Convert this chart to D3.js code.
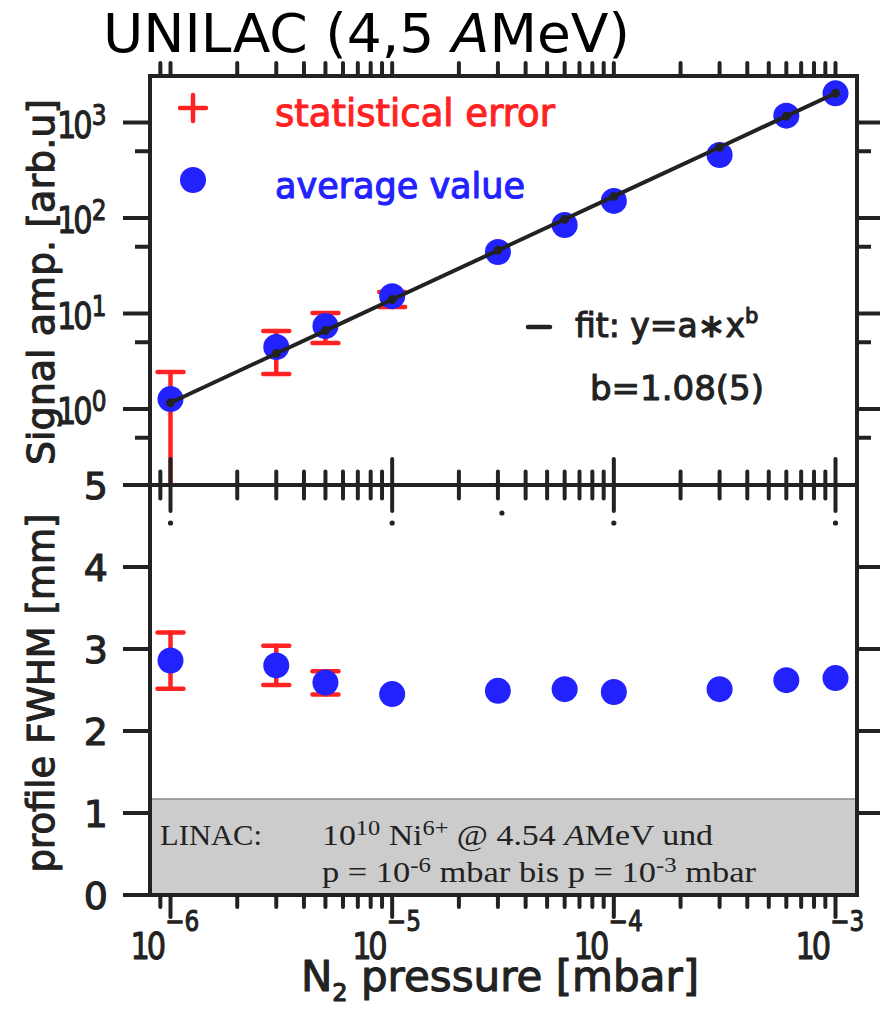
<!DOCTYPE html>
<html><head><meta charset="utf-8">
<script src="https://cdn.jsdelivr.net/npm/d3@7"></script>
<style>body{margin:0;background:#fff}svg{display:block}</style>
</head><body>
<svg id="chart" width="881" height="1009"></svg>
<script>
// Measured signal amplitude and beam profile width versus N2 pressure
const pressure   = [1e-6, 3e-6, 5e-6, 1e-5, 3e-5, 6e-5, 1e-4, 3e-4, 6e-4, 1e-3];
const signalAmp  = [1.27, 4.46, 7.4, 15.2, 44, 84.5, 151, 457, 1180, 2020];
const fwhm       = [2.86, 2.80, 2.59, 2.45, 2.49, 2.51, 2.475, 2.51, 2.62, 2.645];

// statistical errors (upper / lower bound)
const sigErrPressure = [1e-6, 3e-6, 5e-6, 1e-5];
const sigErrHigh     = [2.44, 6.56, 10.1, 16.8];
const sigErrLow      = [0.12, 2.32, 4.91, 11.7];
const fwhmErrPressure = [1e-6, 3e-6, 5e-6];
const fwhmErrHigh     = [3.20, 3.04, 2.73];
const fwhmErrLow      = [2.515, 2.56, 2.445];

// power-law fit y = a * x^b
const fitA = Math.pow(10, 6.546);
const fitB = 1.08;

// axis ticks
const xMajor = [1e-6, 1e-5, 1e-4, 1e-3];
const xMajorExp = ["\u22126", "\u22125", "\u22124", "\u22123"];
const yTopMajor = [1, 10, 100, 1000];
const yTopMajorExp = ["0", "1", "2", "3"];
const yTopMinor = [0.5, 5, 50, 500];
const yBotTicks = [0, 1, 2, 3, 4, 5];
const dotMarks = [1e-6, 1e-5, 3e-5, 1e-4, 1e-3];

const svg = d3.select("#chart");
const INK = "#222", BLUE = "#2222ff", RED = "#ff2222";
const L = 150, R = 857, T = 76, M = 485, B = 895;

const x = d3.scaleLog().domain([1e-6, 1e-3]).range([170.5, 835.5]);
const yTop = d3.scaleLog().domain([1, 1000]).range([409, 122.5]);
const yBot = d3.scaleLinear().domain([0, 5]).range([B, M]);

const sans = "'DejaVu Sans', Verdana, sans-serif";
const serif = "'Liberation Serif', 'Times New Roman', serif";

// title
svg.append("text").attr("x", 103).attr("y", 52)
  .attr("font-family", sans).attr("font-size", 53).attr("fill", "#000")
  .attr("textLength", 527).attr("lengthAdjust", "spacingAndGlyphs")
  .call(t => {
    t.append("tspan").text("UNILAC (4,5 ");
    t.append("tspan").attr("font-style", "italic").text("A");
    t.append("tspan").text("MeV)");
  });

// clip regions for each panel
const defs = svg.append("defs");
defs.append("clipPath").attr("id", "clipTop").append("rect")
  .attr("x", L).attr("y", T).attr("width", R - L).attr("height", M - T);
defs.append("clipPath").attr("id", "clipBot").append("rect")
  .attr("x", L).attr("y", M).attr("width", R - L).attr("height", B - M);

// info box in the lower panel
svg.append("rect").attr("x", L).attr("y", 799).attr("width", R - L).attr("height", B - 799)
  .attr("fill", "#cccccc").attr("stroke", "#8a8a8a").attr("stroke-width", 1.5);

function richText(g, xPos, yPos, parts, size, len) {
  const t = g.append("text").attr("x", xPos).attr("y", yPos)
    .attr("font-family", serif).attr("font-size", size).attr("fill", "#222")
    .attr("textLength", len).attr("lengthAdjust", "spacingAndGlyphs");
  parts.forEach(p => {
    const s = t.append("tspan").text(p.t);
    if (p.sup) s.attr("font-size", size * 0.72).attr("baseline-shift", "45%");
    if (p.it) s.attr("font-style", "italic");
  });
  return t;
}
richText(svg, 160, 845, [{t: "LINAC:"}], 30, 102);
richText(svg, 322, 845, [{t: "10"}, {t: "10", sup: true}, {t: " Ni"}, {t: "6+", sup: true},
  {t: " @ 4.54 "}, {t: "A", it: true}, {t: "MeV und"}], 30, 391);
richText(svg, 322, 882, [{t: "p = 10"}, {t: "-6", sup: true}, {t: " mbar bis p = 10"},
  {t: "-3", sup: true}, {t: " mbar"}], 30, 434);

// error bars
const capW = 13;
function errorBars(g, xs, hi, lo, yS, clip) {
  const gg = g.append("g").attr("clip-path", `url(#${clip})`)
    .attr("stroke", RED).attr("stroke-width", 4.5).attr("stroke-linecap", "round");
  xs.forEach((p, i) => {
    const cx = x(p);
    gg.append("line").attr("x1", cx).attr("x2", cx).attr("y1", yS(hi[i])).attr("y2", yS(lo[i]));
    [hi[i], lo[i]].forEach(v => {
      gg.append("line").attr("x1", cx - capW).attr("x2", cx + capW).attr("y1", yS(v)).attr("y2", yS(v));
    });
  });
}
errorBars(svg, sigErrPressure, sigErrHigh, sigErrLow, yTop, "clipTop");
errorBars(svg, fwhmErrPressure, fwhmErrHigh, fwhmErrLow, yBot, "clipBot");

// data points
svg.append("g").selectAll("circle").data(pressure).join("circle")
  .attr("cx", d => x(d)).attr("cy", (d, i) => yTop(signalAmp[i])).attr("r", 13).attr("fill", BLUE);
svg.append("g").selectAll("circle").data(pressure).join("circle")
  .attr("cx", d => x(d)).attr("cy", (d, i) => yBot(fwhm[i])).attr("r", 13).attr("fill", BLUE);

// fit line with markers at the measured pressures
const fit = p => fitA * Math.pow(p, fitB);
svg.append("path").datum(pressure)
  .attr("d", d3.line().x(d => x(d)).y(d => yTop(fit(d))))
  .attr("fill", "none").attr("stroke", INK).attr("stroke-width", 4).attr("stroke-linecap", "round");
svg.append("g").selectAll("circle").data(pressure).join("circle")
  .attr("cx", d => x(d)).attr("cy", d => yTop(fit(d))).attr("r", 4.5).attr("fill", INK);

// frame
const frame = svg.append("g").attr("stroke", INK).attr("stroke-width", 4).attr("fill", "none");
frame.append("rect").attr("x", L).attr("y", T).attr("width", R - L).attr("height", B - T);
frame.append("line").attr("x1", L).attr("x2", R).attr("y1", M).attr("y2", M);

// x ticks: every m*10^d inside the frame
const xTicks = [];
for (let d = -7; d <= -3; d++) for (let m = 1; m <= 9; m++) {
  const v = m * Math.pow(10, d);
  if (x(v) > L + 2 && x(v) < R - 2) xTicks.push({v, major: m === 1});
}
const tk = svg.append("g").attr("stroke", INK).attr("stroke-width", 4).attr("stroke-linecap", "round");
xTicks.forEach(t => {
  const cx = x(t.v);
  tk.append("line").attr("x1", cx).attr("x2", cx).attr("y1", T).attr("y2", T - 13);
  tk.append("line").attr("x1", cx).attr("x2", cx)
    .attr("y1", M - (t.major ? 26 : 13.5)).attr("y2", M + (t.major ? 26 : 13.5));
  tk.append("line").attr("x1", cx).attr("x2", cx).attr("y1", B).attr("y2", B + (t.major ? 22 : 12));
});
// y ticks, upper panel
yTopMajor.forEach(v => {
  tk.append("line").attr("x1", L).attr("x2", L - 27).attr("y1", yTop(v)).attr("y2", yTop(v)).attr("stroke-linecap", "butt");
  tk.append("line").attr("x1", R).attr("x2", R + 23).attr("y1", yTop(v)).attr("y2", yTop(v)).attr("stroke-linecap", "butt");
});
yTopMinor.forEach(v => {
  tk.append("line").attr("x1", L).attr("x2", L - 15).attr("y1", yTop(v)).attr("y2", yTop(v)).attr("stroke-linecap", "butt");
  tk.append("line").attr("x1", R).attr("x2", R + 14).attr("y1", yTop(v)).attr("y2", yTop(v)).attr("stroke-linecap", "butt");
});
// y ticks, lower panel
yBotTicks.forEach(v => {
  tk.append("line").attr("x1", L).attr("x2", L - 27).attr("y1", yBot(v)).attr("y2", yBot(v)).attr("stroke-linecap", "butt");
  if (v > 0 && v < 5)
    tk.append("line").attr("x1", R).attr("x2", R + 23).attr("y1", yBot(v)).attr("y2", yBot(v)).attr("stroke-linecap", "butt");
});

// small dots below the middle axis
svg.append("g").selectAll("circle").data(dotMarks).join("circle")
  .attr("cx", d => x(d) + (d === 3e-5 ? 4 : 0)).attr("cy", d => d === 3e-5 ? 513 : 523)
  .attr("r", 2.6).attr("fill", INK);

// label helper (rounded-looking heavy sans)
function label(g, xPos, yPos, size, color) {
  return g.append("text").attr("x", xPos).attr("y", yPos)
    .attr("font-family", sans).attr("font-size", size).attr("fill", color)
    .attr("stroke", color).attr("stroke-width", 1.1).attr("stroke-linejoin", "round");
}
// power-of-ten label in a narrow face: "10" with a raised exponent
function powLabel(g, px, py, exp, rise) {
  const t = label(g, 0, 0, 38, INK).attr("transform", `translate(${px},${py}) scale(0.8,1)`);
  t.append("tspan").attr("letter-spacing", -4).text("10");
  t.append("tspan").attr("font-size", 29).attr("dy", -rise).attr("dx", 3).text(exp);
  return t;
}

// y tick labels, upper panel
yTopMajor.forEach((v, i) => powLabel(svg, 57, yTop(v) + 15, yTopMajorExp[i], 13));
// y tick labels, lower panel
yBotTicks.forEach(v => {
  label(svg, 108, yBot(v) + 14, 38, INK).attr("text-anchor", "end").text(String(v));
});
// x tick labels
xMajor.forEach((v, i) => powLabel(svg, x(v) - 40, 959, xMajorExp[i], 28));

// axis titles
label(svg, 0, 0, 38, INK).attr("transform", "translate(54,282) rotate(-90)")
  .attr("text-anchor", "middle").text("Signal amp. [arb.u]");
label(svg, 0, 0, 37, INK).attr("transform", "translate(54,693) rotate(-90)")
  .attr("text-anchor", "middle").text("profile FWHM [mm]");
label(svg, 500, 991, 42, INK).attr("text-anchor", "middle").call(t => {
  t.append("tspan").text("N");
  t.append("tspan").attr("font-size", 24).attr("dy", 10).text("2");
  t.append("tspan").attr("dy", -10).text(" pressure [mbar]");
});

// legend
const lg = svg.append("g");
lg.append("g").attr("stroke", RED).attr("stroke-width", 4.5).attr("stroke-linecap", "round")
  .call(g => {
    g.append("line").attr("x1", 180).attr("x2", 206).attr("y1", 108).attr("y2", 108);
    g.append("line").attr("x1", 193).attr("x2", 193).attr("y1", 95).attr("y2", 121);
  });
lg.append("circle").attr("cx", 193).attr("cy", 180).attr("r", 13).attr("fill", BLUE);
label(lg, 275, 126, 37, RED).text("statistical error");
label(lg, 275, 198, 35, BLUE).text("average value");

lg.append("line").attr("x1", 528).attr("x2", 550).attr("y1", 327).attr("y2", 327)
  .attr("stroke", INK).attr("stroke-width", 4.5).attr("stroke-linecap", "round");
label(lg, 575, 337, 33, INK).call(t => {
  t.append("tspan").text("fit:  y=a\u2217x");
  t.append("tspan").attr("font-size", 21).attr("dy", -14).text("b");
});
label(lg, 590, 400, 34, INK).text("b=1.08(5)");
</script>
</body></html>
